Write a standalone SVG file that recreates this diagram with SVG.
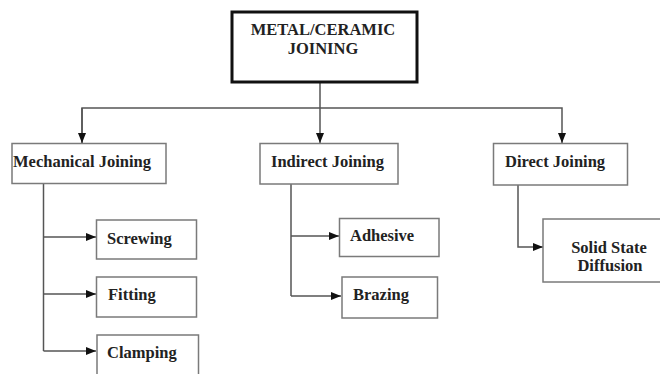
<svg xmlns="http://www.w3.org/2000/svg" width="660" height="374" viewBox="0 0 660 374">
<style>
.box{fill:#fff;stroke:#7a7a7a;stroke-width:1.5}
.top{fill:#fff;stroke:#111;stroke-width:3}
.t{font-family:"Liberation Serif","DejaVu Serif",serif;font-weight:bold;font-size:16.5px;fill:#222}
.c{text-anchor:middle}
.ln{fill:none;stroke:#555;stroke-width:1.5}
</style>
<defs>
<marker id="ah" markerWidth="10" markerHeight="8" refX="10" refY="4" orient="auto" markerUnits="userSpaceOnUse">
<path d="M0,0 L10,4 L0,8 Z" fill="#111"/>
</marker>
</defs>
<rect width="660" height="374" fill="#fff"/>
<g id="connectors">
<path class="ln" d="M320,82 V143" marker-end="url(#ah)"/>
<path class="ln" d="M82,143 V108 H562 V143" marker-end="url(#ah)"/>
<path class="ln" d="M82,108 V143" marker-end="url(#ah)"/>
<path class="ln" d="M43.5,184 V351"/>
<path class="ln" d="M43.5,237 H96" marker-end="url(#ah)"/>
<path class="ln" d="M43.5,294 H96" marker-end="url(#ah)"/>
<path class="ln" d="M43.5,351 H96" marker-end="url(#ah)"/>
<path class="ln" d="M291,184 V296"/>
<path class="ln" d="M291,236 H339" marker-end="url(#ah)"/>
<path class="ln" d="M291,296 H341" marker-end="url(#ah)"/>
<path class="ln" d="M518,185 V247 H543" marker-end="url(#ah)"/>
</g>
<g id="root">
<rect class="top" x="232" y="12" width="185" height="70"/>
<text class="t c" x="323" y="35">METAL/CERAMIC</text>
<text class="t c" x="323" y="54">JOINING</text>
</g>
<g id="mechanical">
<rect class="box" x="12" y="143.5" width="154" height="40"/>
<text class="t" x="13" y="167">Mechanical Joining</text>
</g>
<g id="indirect">
<rect class="box" x="260" y="143.5" width="138" height="40.5"/>
<text class="t" x="271" y="167">Indirect Joining</text>
</g>
<g id="direct">
<rect class="box" x="493.5" y="143.5" width="134" height="41.5"/>
<text class="t" x="505" y="167">Direct Joining</text>
</g>
<g id="screwing">
<rect class="box" x="96.5" y="220" width="100" height="39"/>
<text class="t" x="107" y="244">Screwing</text>
</g>
<g id="fitting">
<rect class="box" x="96.5" y="277" width="100" height="40"/>
<text class="t" x="108" y="300">Fitting</text>
</g>
<g id="clamping">
<rect class="box" x="97" y="335" width="101.5" height="50"/>
<text class="t" x="107" y="358">Clamping</text>
</g>
<g id="adhesive">
<rect class="box" x="339.5" y="218.5" width="99.5" height="38"/>
<text class="t" x="350" y="241">Adhesive</text>
</g>
<g id="brazing">
<rect class="box" x="342" y="277" width="95.5" height="41"/>
<text class="t" x="353" y="300">Brazing</text>
</g>
<g id="ssd">
<rect class="box" x="543" y="219" width="130" height="63"/>
<text class="t c" x="609" y="253">Solid State</text>
<text class="t c" x="610" y="271">Diffusion</text>
</g>
</svg>
